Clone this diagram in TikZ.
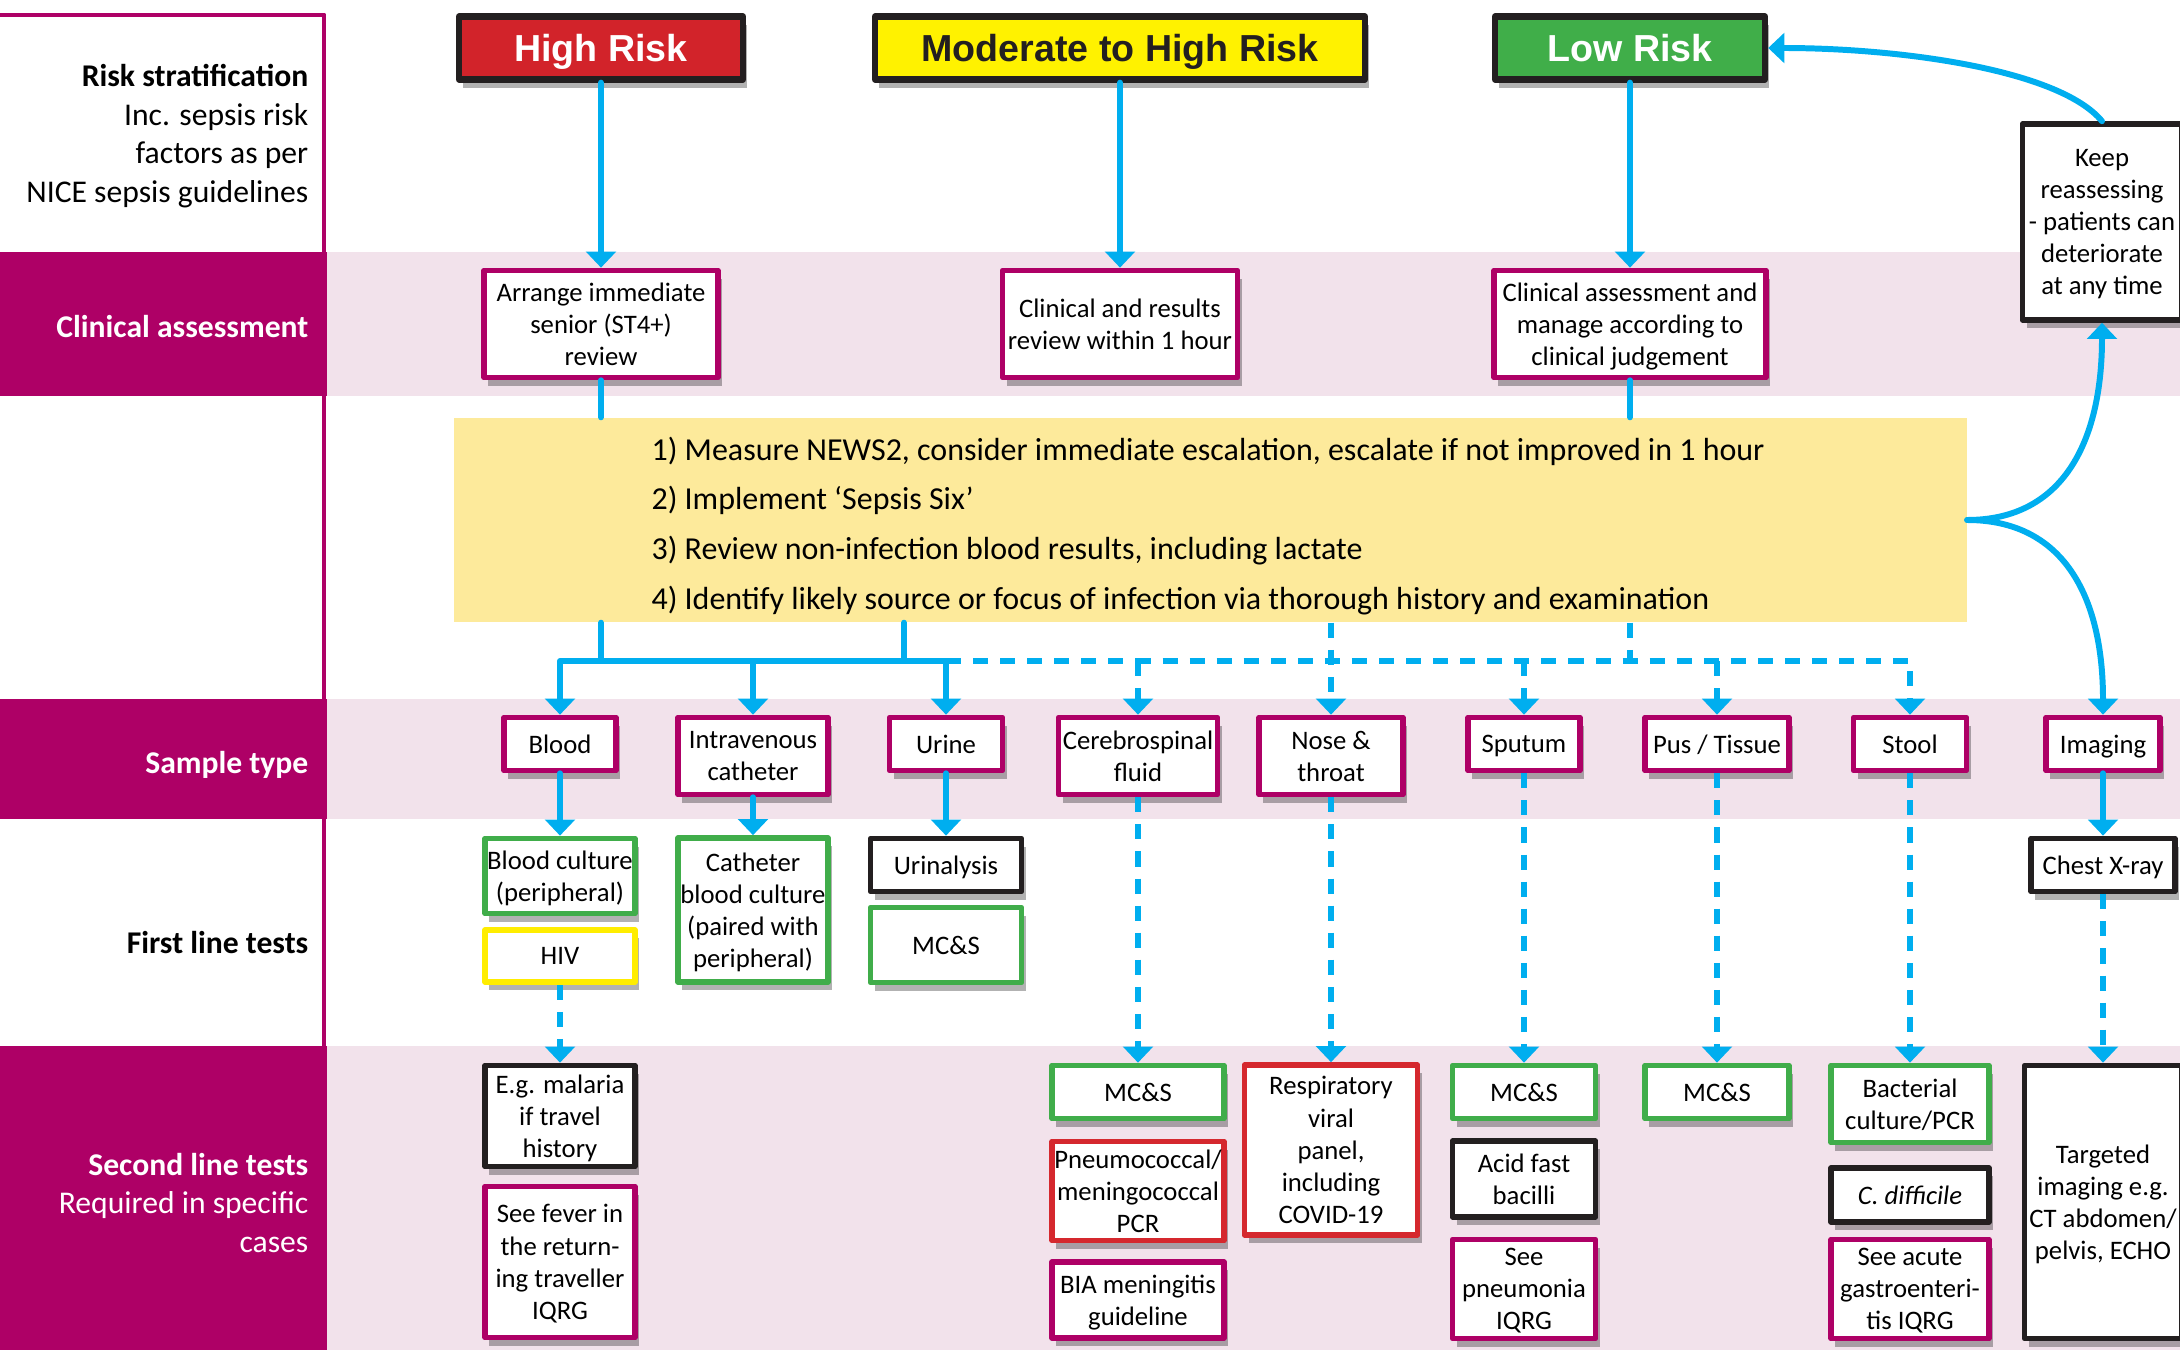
\documentclass[tikz,border=0pt]{standalone}
\usepackage{fontspec}
\setmainfont{Carlito}
\newfontfamily\riskfont{Liberation Sans}
\usepackage{tikz}
\usetikzlibrary{arrows.meta,shadows}
\definecolor{plum}{RGB}{174,0,102}
\definecolor{band}{RGB}{242,226,235}
\definecolor{flow}{RGB}{0,174,239}
\definecolor{cream}{RGB}{253,234,155}
\definecolor{riskred}{RGB}{210,35,42}
\definecolor{riskyel}{RGB}{255,242,0}
\definecolor{riskgrn}{RGB}{64,174,73}
\definecolor{okgrn}{RGB}{64,173,74}
\definecolor{pcrred}{RGB}{213,40,46}
\definecolor{hivyel}{RGB}{255,237,0}
\definecolor{ink}{RGB}{35,31,32}
\newcommand{\boxfont}{\fontsize{7.6}{9.15}\selectfont}
\newcommand{\labfont}{\fontsize{9}{11}\selectfont}

\begin{document}
\begin{tikzpicture}[line cap=round,line join=round,>={Triangle[width=8.4pt,length=4.6pt]},x=0.1mm,y=-0.1mm,
	shd/.style={drop shadow={shadow xshift=1.2pt,shadow yshift=-2.4pt,opacity=0.3,fill=black}},
	risk/.style={draw=ink,line width=1.8pt,minimum height=6.3mm,inner sep=0pt,text height=7.7pt,text depth=0pt,font=\riskfont\bfseries\fontsize{10.7}{13}\selectfont,shd},
	tbox/.style={fill=white,line width=1.6pt,inner sep=0pt,align=center,text depth=-2.3pt,font=\boxfont,shd},
	magbox/.style={tbox,draw=plum},
	grnbox/.style={tbox,draw=okgrn},
	redbox/.style={tbox,draw=pcrred},
	blkbox/.style={tbox,draw=ink},
	ylwbox/.style={tbox,draw=hivyel},
	lab/.style={anchor=east,align=right,inner sep=0pt,font=\labfont},
	ln/.style={draw=flow,line width=1.7pt},
	dsh/.style={ln,line cap=butt,dash pattern=on 4.3pt off 3.4pt}]
	\clip (0,0) rectangle (2180,1350);
	% rows
	\foreach \t/\b in {252/396,699/819,1046/1350} {
	\fill[band] (327,\t) rectangle (2180,\b);
	\fill[plum] (0,\t) rectangle (327,\b);
	}
	\draw[plum,line width=1.4pt] (0,15) -- (324,15) -- (324,1046);
	\node[lab] (lstrat) at (309,136) {\textbf{Risk stratification}\\Inc. sepsis risk\\factors as per\\NICE sepsis guidelines};
	\node[lab,text=white] (lclin) at (309,327) {\textbf{Clinical assessment}};
	\node[lab,text=white] (lsamp) at (309,765) {\textbf{Sample type}};
	\node[lab] (lfirst) at (309,943) {\textbf{First line tests}};
	\node[lab,text=white] (lsecond) at (309,1203) {\textbf{Second line tests}\\Required in specific\\cases};
	% risk and assessment
	\node[risk,fill=riskred,text=white,minimum width=28.4mm] (hi) at (601,48) {High Risk};
	\node[risk,fill=riskyel,text=ink,minimum width=49mm] (mod) at (1120,48) {Moderate to High Risk};
	\node[risk,fill=riskgrn,text=white,minimum width=27mm] (lo) at (1630,48) {Low Risk};
	\node[magbox,minimum width=23.4mm,minimum height=10.7mm] (arr) at (601,324) {Arrange immediate\\senior (ST4+)\\review};
	\node[magbox,minimum width=23.5mm,minimum height=10.7mm] (clr) at (1120,324) {Clinical and results\\review within 1 hour};
	\node[magbox,minimum width=27.2mm,minimum height=10.7mm] (cam) at (1630,324) {Clinical assessment and\\manage according to\\clinical judgement};
	\node[blkbox,minimum width=15.9mm,minimum height=19.6mm] (keep) at (2102,222) {Keep\\reassessing\\- patients can\\deteriorate\\at any time};
	\node[fill=cream,minimum width=151.3mm,minimum height=20.4mm] (act) at (1210,520) {};
	\node[align=left,inner sep=0pt,font=\fontsize{9.1}{14.2}\selectfont] (actlist) at (1208,526) {1) Measure NEWS2, consider immediate escalation, escalate if not improved in 1 hour\\2) Implement ‘Sepsis Six’\\3) Review non-infection blood results, including lactate\\4) Identify likely source or focus of infection via thorough history and examination};
	% sample type
	\node[magbox,minimum width=11.2mm,minimum height=5.3mm] (blood) at (560,744) {Blood};
	\node[magbox,minimum width=15mm,minimum height=7.7mm] (ivc) at (753,756) {Intravenous\\catheter};
	\node[magbox,minimum width=11.3mm,minimum height=5.3mm] (urine) at (946,744) {Urine};
	\node[magbox,minimum width=15.9mm,minimum height=7.7mm] (csf) at (1138,756) {Cerebrospinal\\fluid};
	\node[magbox,minimum width=14.4mm,minimum height=7.7mm] (nose) at (1331,756) {Nose \&\\throat};
	\node[magbox,minimum width=11.2mm,minimum height=5.3mm] (sputum) at (1524,744) {Sputum};
	\node[magbox,minimum width=14.4mm,minimum height=5.3mm] (pus) at (1717,744) {Pus / Tissue};
	\node[magbox,minimum width=11.3mm,minimum height=5.3mm] (stool) at (1910,744) {Stool};
	\node[magbox,minimum width=11.4mm,minimum height=5.3mm] (imaging) at (2103,744) {Imaging};
	% first line
	\node[grnbox,minimum width=15mm,minimum height=7.5mm] (bcp) at (560,876) {Blood culture\\(peripheral)};
	\node[ylwbox,minimum width=15mm,minimum height=5.2mm] (hiv) at (560,956) {HIV};
	\node[grnbox,minimum width=15mm,minimum height=14.4mm] (cbc) at (753,910) {Catheter\\blood culture\\(paired with\\peripheral)};
	\node[blkbox,minimum width=15.1mm,minimum height=5.3mm] (uan) at (946,865) {Urinalysis};
	\node[grnbox,minimum width=15.1mm,minimum height=7.5mm] (umcs) at (946,945) {MC\&S};
	\node[blkbox,minimum width=14.4mm,minimum height=5.3mm] (cxr) at (2103,865) {Chest X-ray};
	% second line
	\node[blkbox,minimum width=15mm,minimum height=10.1mm] (mal) at (560,1116) {E.g. malaria\\if travel\\history};
	\node[magbox,minimum width=15mm,minimum height=15.1mm] (fev) at (560,1262) {See fever in\\the return-\\ing traveller\\IQRG};
	\node[grnbox,minimum width=17.2mm,minimum height=5.3mm] (cmcs) at (1138,1092) {MC\&S};
	\node[redbox,minimum width=17.2mm,minimum height=9.9mm] (pcr) at (1138,1191) {Pneumococcal/\\meningococcal\\PCR};
	\node[magbox,minimum width=17.2mm,minimum height=7.6mm] (bia) at (1138,1300) {BIA meningitis\\guideline};
	\node[redbox,minimum width=17.3mm,minimum height=17mm] (rvp) at (1331,1150) {Respiratory\\viral\\panel,\\including\\COVID-19};
	\node[grnbox,minimum width=14.3mm,minimum height=5.3mm] (smcs) at (1524,1092) {MC\&S};
	\node[blkbox,minimum width=14.3mm,minimum height=7.6mm] (afb) at (1524,1179) {Acid fast\\bacilli};
	\node[magbox,minimum width=14.3mm,minimum height=9.9mm] (pne) at (1524,1289) {See\\pneumonia\\IQRG};
	\node[grnbox,minimum width=14.4mm,minimum height=5.3mm] (pmcs) at (1717,1092) {MC\&S};
	\node[grnbox,minimum width=15.8mm,minimum height=7.7mm] (bac) at (1910,1104) {Bacterial\\culture/PCR};
	\node[blkbox,minimum width=15.8mm,minimum height=5.4mm] (cdi) at (1910,1195) {\textit{C. difficile}};
	\node[magbox,minimum width=15.8mm,minimum height=9.9mm] (gas) at (1910,1289) {See acute\\gastroenteri-\\tis IQRG};
	\node[blkbox,minimum width=15.7mm,minimum height=27.3mm] (tgt) at (2103,1202) {Targeted\\imaging e.g.\\CT abdomen/\\pelvis, ECHO};
	% connectors
	\draw[ln,->] (hi) -- (arr);
	\draw[ln,->] (mod) -- (clr);
	\draw[ln,->] (lo) -- (cam);
	\draw[ln] (arr) -- (arr |- act.north);
	\draw[ln] (cam) -- (cam |- act.north);
	\coordinate (jl) at (601,661);
	\coordinate (jr) at (904,661);
	\draw[ln] (jl |- act.south) -- (jl);
	\draw[ln] (jr |- act.south) -- (jr);
	\draw[dsh,->] (urine |- jr) -| (stool);
	\draw[dsh] (cam |- act.south) -- (cam |- jr);
	\draw[dsh,->] (nose |- act.south) -- (nose);
	\foreach \s in {csf,sputum,pus} \draw[dsh,->] (\s |- jr) -- (\s);
	\draw[ln,->] (jl) -| (blood);
	\draw[ln,->] (jr) -| (urine);
	\draw[ln] (jl) -- (jr);
	\draw[ln,->] (ivc |- jl) -- (ivc);
	\foreach \a/\b in {blood/bcp,ivc/cbc,urine/uan,imaging/cxr} \draw[ln,->] (\a) -- (\b);
	\foreach \a/\b in {hiv/mal,csf/cmcs,nose/rvp,sputum/smcs,pus/pmcs,stool/bac,cxr/tgt} \draw[dsh,->] (\a) -- (\b);
	\draw[ln,->] (act.east) .. controls +(95,0) and +(0,120) .. (keep.south);
	\draw[ln,->] (act.east) .. controls +(95,0) and +(0,-120) .. (imaging.north);
	\draw[ln,->] (keep.north) .. controls +(-43,-52) and +(130,0) .. (lo.east);
\end{tikzpicture}
\end{document}
